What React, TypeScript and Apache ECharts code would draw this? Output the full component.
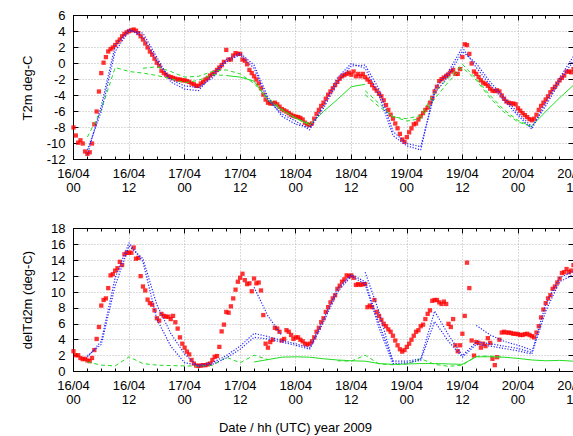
import React, { useEffect, useRef } from 'react';
import * as echarts from 'echarts';

// time step of observation series (hours) and model series (hours)
const obsStep = 0.5;
const modelStep = 3;

const xTickLabels = ['16/04\n00', '16/04\n12', '17/04\n00', '17/04\n12', '18/04\n00', '18/04\n12', '19/04\n00', '19/04\n12', '20/04\n00', '20/04\n12'];

// ---- T2m (deg C) observations, every 30 min from 16/04 00 ----
const t2mObs = [
  -8.0, -9.0, -9.9, -9.6, -10.0, -11.0, -11.3, -11.1, -10.0, -7.6, -6.0, -3.5, -1.2, 0.1, 0.8, 1.5, 1.8, 2.0, 2.3, 2.7, 3.0, 3.4, 3.7, 3.9,
  4.05, 4.15, 4.25, 4.1, 3.8, 3.4, 3.0, 2.5, 2.0, 1.5, 1.1, 0.6, 0.1, -0.3, -0.9, -1.2, -1.4, -1.6, -1.7, -1.8, -1.9, -2.0, -2.0, -2.1,
  -2.1, -2.2, -2.3, -2.5, -2.6, -2.8, -2.8, -2.5, -2.3, -2.0, -1.8, -1.5, -1.3, -1.1, -0.8, -0.5, -0.2, 0.2, 1.7, 0.5, 0.5, 1.0, 1.3, 1.2,
  1.2, 0.5, 0.35, -0.1, -0.8, -1.2, -1.6, -2.0, -2.5, -3.1, -3.9, -4.5, -4.9, -5.0, -5.0, -4.9, -5.1, -5.4, -5.7, -5.85, -6.0, -6.2, -6.4, -6.55,
  -6.65, -6.7, -6.8, -7.0, -7.4, -7.6, -7.7, -7.5, -6.9, -6.3, -5.8, -5.3, -4.9, -4.4, -3.9, -3.5, -3.1, -2.7, -2.3, -1.9, -1.6, -1.45, -1.3, -1.15,
  -1.4, -1.0, -1.6, -1.3, -1.6, -1.3, -1.7, -2.0, -2.3, -2.7, -3.1, -3.4, -3.8, -4.1, -4.6, -5.2, -5.8, -6.4, -6.9, -7.5, -8.1, -8.8, -9.5, -9.8,
  -9.2, -8.6, -8.1, -7.6, -7.5, -7.0, -6.6, -6.2, -5.8, -5.5, -4.9, -4.3, -3.5, -2.9, -2.2, -1.95, -1.75, -1.55, -1.35, -1.0, -0.8, -1.3, -1.3, -0.7,
  0.8, 2.4, 2.3, 1.2, 0.0, -1.0, -1.3, -1.7, -2.1, -2.4, -2.55, -2.8, -3.15, -3.4, -3.45, -3.35, -3.5, -4.0, -4.4, -4.75, -4.9, -5.0, -5.0, -5.1,
  -5.6, -5.9, -6.2, -6.45, -6.7, -6.95, -7.1, -6.9, -6.4, -5.8, -5.3, -4.9, -4.5, -4.1, -3.6, -3.2, -2.9, -2.5, -2.1, -1.8, -1.5, -1.0, -1.0, -1.1,
  -0.7,
];

// ---- T2m model forecasts, every 3 h from 16/04 00 ----
const t2mBlue1 = [null, -11.4, -5.3, 2.2, 4.3, 3.3, 0.3, -2.0, -2.8, -3.0, -1.8, 0.2, 1.1, -0.6, -4.6, -6.3, -7.2, -8.3, -5.2, -1.8, 0.0, -0.6, -4.0, -9.0, -10.3, -10.8, -3.2, -1.0, 2.0, -0.5, -2.7, -4.6, -6.5, -8.2, -4.8, -1.8, 0.9];
const t2mBlue2 = [null, -10.8, -6.0, 1.5, 4.1, 3.8, 0.8, -2.3, -3.2, -3.4, -1.4, 0.5, 1.3, -0.2, -4.2, -6.6, -7.6, -8.0, -5.6, -2.4, -0.3, -0.2, -3.2, -8.5, -10.0, -10.4, -3.8, -1.5, 1.5, 0.0, -2.3, -4.2, -6.2, -7.9, -5.3, -2.3, 0.4];
const t2mGreenDash0 = [null, -9.2, -5.8, -0.5, -1.0, -1.2, -1.5, -1.9, -2.4, -2.1, -1.4, -1.5, null, null, null, null, null, null, null, null, null, null, null, null, null, null, null, null, null, null, null, null, null, null, null, null, null];
const t2mGreenDash1 = [null, null, null, null, null, -0.6, -0.4, -1.0, -1.7, -1.6, -1.0, -0.8, -1.3, -2.5, -4.3, -5.7, -6.9, -7.5, null, null, null, -3.4, -5.0, -6.7, -6.9, -6.5, -3.6, -1.8, -0.1, -1.9, -4.0, -5.8, -7.1, -7.9, null, null, null];
const t2mGreenDash2 = [null, null, null, null, null, null, null, null, null, null, null, null, null, null, null, null, null, null, null, null, null, -3.9, -5.4, -6.6, -7.2, -6.9, -4.4, -2.3, -0.5, -2.1, -4.3, -6.1, -7.3, -7.9, null, null, null];
const t2mGreenSolid = [null, null, null, null, null, null, null, null, null, null, null, -1.5, -1.7, -2.2, -4.6, -5.8, -6.8, -7.7, -6.0, -4.5, -2.9, -2.6, null, null, null, null, null, null, null, null, null, null, null, -7.8, -6.0, -4.3, -2.7];

// ---- delTd2m (deg C) observations, every 30 min ----
const delTdObs = [
  2.55, 2.05, 2.05, 1.7, 1.55, 1.6, 1.4, 1.3, 1.7, 2.7, 4.1, 5.6, 8.3, 9.0, 9.2, 10.5, 12.1, 12.25, 12.7, 13.0, 13.8, 13.4, 14.75, 14.95,
  14.95, 14.95, 15.6, 14.2, 14.3, 12.0, 10.7, 10.2, 9.05, 8.6, 8.4, 7.7, 6.7, 6.4, 7.25, 7.0, 6.9, 6.9, 6.6, 7.0, 6.2, 5.4, 4.3, 3.5,
  3.0, 2.5, 2.15, 1.45, 1.0, 0.75, 0.7, 0.75, 0.8, 0.8, 0.9, 1.0, 1.45, 1.85, 1.95, 3.1, 5.05, 5.9, 7.5, 7.4, 8.2, 9.2, 10.3, 11.3,
  11.8, 12.3, 11.5, 11.0, 11.1, 10.1, 11.7, 11.1, 11.2, 10.2, 7.1, 3.5, 3.0, 3.7, 4.0, 5.5, 5.4, 5.0, 3.9, 4.1, 5.2, 5.0, 4.6, 4.1,
  4.3, 4.3, 4.0, 3.8, 3.5, 3.4, 3.5, 3.8, 4.3, 5.0, 5.5, 6.2, 6.7, 7.5, 8.1, 8.7, 9.2, 9.6, 10.4, 10.8, 11.3, 11.6, 12.1, 12.0,
  12.1, 11.8, 10.9, 11.0, 10.9, 11.0, 11.0, 8.1, 8.3, 8.1, 9.0, 7.5, 7.0, 6.5, 6.0, 5.7, 5.3, 5.0, 4.5, 3.9, 3.3, 2.8, 2.5, 2.7,
  3.1, 3.5, 4.0, 4.5, 5.0, 5.2, 5.7, 5.9, 6.6, 7.25, 7.7, 8.9, 9.0, 9.0, 8.7, 8.5, 8.8, 8.5, 6.0, 5.6, 6.6, 3.3, 2.55, 3.3,
  4.75, 7.0, 13.7, 10.5, 3.9, 2.0, 3.7, 3.6, 3.0, 3.5, 3.2, 4.2, 3.6, 1.6, 0.8, 1.8, 4.0, 4.9, 5.0, 4.9, 4.9, 4.85, 4.75, 4.75,
  4.7, 4.6, 4.6, 4.7, 4.75, 4.6, 4.45, 4.3, 4.9, 5.7, 6.8, 7.8, 8.6, 9.2, 9.6, 10.4, 10.7, 11.2, 11.7, 12.4, 12.5, 12.9, 12.5, 12.7,
  13.4,
];

// ---- delTd2m model forecasts, every 3 h ----
const delTdBlue1 = [null, 1.8, 3.8, 11.8, 16.2, 13.8, 6.6, 3.2, 1.1, 0.8, 1.1, 2.0, 3.2, 4.8, 4.4, 3.9, 3.5, 3.0, 6.6, 10.4, 12.2, 11.3, 6.0, 1.3, 1.3, 1.6, 7.6, 4.6, 2.0, 3.7, 3.5, 3.2, 2.9, 2.4, 8.5, 11.8, 12.6];
const delTdBlue2 = [null, 2.0, 3.4, 10.8, 15.8, 14.2, 8.4, 4.8, 2.2, 0.6, 0.9, 1.7, 2.8, 4.3, 4.1, 3.7, 3.3, 2.8, 6.2, 10.0, 12.0, 11.0, 5.5, 1.0, 1.1, 1.4, 6.3, 3.8, 1.8, 3.4, 3.2, 2.9, 2.6, 2.2, 7.6, 11.3, 12.2];
const delTdBlue3 = [null, null, null, null, null, null, null, null, null, null, null, null, null, 10.6, 7.0, 4.5, null, null, null, null, null, 12.5, 7.5, 1.2, null, null, null, null, null, 5.8, 4.6, 3.8, 3.3, 2.7, null, null, null];
const delTdGreenDash1 = [null, 1.2, 0.8, 0.7, 1.85, 1.0, 0.8, 0.75, 0.7, 0.7, 0.75, 1.8, 1.1, 2.05, 1.5, null, null, null, null, null, null, null, null, null, null, null, null, null, null, null, null, null, null, null, null, null, null];
const delTdGreenDash2 = [null, null, null, null, null, null, null, null, null, null, null, null, null, null, null, null, null, null, null, 1.35, 1.3, 2.05, 0.95, 0.85, 0.95, 1.6, 0.9, 0.65, 0.8, 1.9, 1.95, 1.8, null, null, null, null, null];
const delTdGreenSolid = [null, null, null, null, null, null, null, null, null, null, null, null, null, 1.2, 1.5, 1.8, 1.85, 1.8, 1.6, 1.45, 1.35, 1.3, 1.0, 0.9, 0.95, 1.0, 1.0, 0.95, 0.9, 1.85, 1.85, 1.8, 1.65, 1.45, 1.35, 1.4, 1.3];

const FONT = '"Liberation Sans", Arial, Helvetica, sans-serif';
const RED = '#ff0000';
const BLUE = '#2626ff';
const GREEN = '#22dd22';

function toPairs(values: (number | null)[], step: number) {
  return values.map((v, i) => [i * step, v]);
}

function obsSeries(values: number[], axis: number) {
  return {
    type: 'scatter',
    xAxisIndex: axis * 2,
    yAxisIndex: axis * 2,
    data: toPairs(values, obsStep),
    symbol: 'rect',
    symbolSize: 4.3,
    itemStyle: { color: RED },
    z: 2,
  };
}

function modelSeries(values: (number | null)[], axis: number, color: string, dash: any, width = 1) {
  return {
    type: 'line',
    xAxisIndex: axis * 2,
    yAxisIndex: axis * 2,
    data: toPairs(values, modelStep),
    showSymbol: false,
    symbol: 'none',
    connectNulls: false,
    lineStyle: { color, width, type: dash },
    z: 3,
  };
}

const gridLine = { show: true, lineStyle: { color: '#b4b4b4', type: [1, 2], width: 1 } };
const axisLine = { show: true, onZero: false, lineStyle: { color: '#000', width: 1 } };

function xAxes(gridIndex: number) {
  const common = {
    gridIndex,
    type: 'value',
    min: 0,
    max: 108,
    interval: 12,
    axisLine,
    axisTick: { show: true, inside: true, length: 5, lineStyle: { color: '#000' } },
    minorTick: { show: true, splitNumber: 4, length: 3, lineStyle: { color: '#000' } },
  };
  return [
    {
      ...common,
      position: 'bottom',
      splitLine: gridLine,
      axisLabel: {
        show: true,
        margin: 7,
        fontSize: 13,
        lineHeight: 14,
        color: '#000',
        fontFamily: FONT,
        showMaxLabel: true,
        showMinLabel: true,
        hideOverlap: false,
        formatter: (v: number) => xTickLabels[Math.round(v / 12)] ?? '',
      },
    },
    { ...common, position: 'top', splitLine: { show: false }, axisLabel: { show: false } },
  ];
}

function yAxes(gridIndex: number, min: number, max: number) {
  const common = {
    gridIndex,
    type: 'value',
    min,
    max,
    interval: 2,
    axisLine,
    axisTick: { show: true, inside: true, length: 5, lineStyle: { color: '#000' } },
  };
  return [
    {
      ...common,
      position: 'left',
      splitLine: gridLine,
      axisLabel: { show: true, margin: 8, fontSize: 13, color: '#000', fontFamily: FONT },
    },
    { ...common, position: 'right', splitLine: { show: false }, axisLabel: { show: false } },
  ];
}

export default function App() {
  const ref = useRef<HTMLDivElement>(null);
  useEffect(() => {
    if (!ref.current) return;
    const chart = echarts.init(ref.current, undefined, { renderer: 'svg' });
    const dotted = [1.2, 1.6];
    const dashed = [4, 3];
    chart.setOption({
      animation: false,
      backgroundColor: '#fff',
      textStyle: { fontFamily: FONT },
      grid: [
        { left: 73.5, top: 15.5, width: 500, height: 144 },
        { left: 73.5, top: 228.5, width: 500, height: 143 },
      ],
      xAxis: [...xAxes(0), ...xAxes(1)],
      yAxis: [...yAxes(0, -12, 6), ...yAxes(1, 0, 18)],
      graphic: [
        {
          type: 'text', x: 27, y: 88, rotation: Math.PI / 2,
          style: { text: 'T2m deg-C', fontSize: 13, fontFamily: FONT, fill: '#000', textAlign: 'center', textVerticalAlign: 'middle', align: 'center', verticalAlign: 'middle' },
        },
        {
          type: 'text', x: 27, y: 300, rotation: Math.PI / 2,
          style: { text: 'delTd2m (deg-C)', fontSize: 13, fontFamily: FONT, fill: '#000', textAlign: 'center', textVerticalAlign: 'middle', align: 'center', verticalAlign: 'middle' },
        },
        {
          type: 'text', x: 295.5, y: 427,
          style: { text: 'Date / hh (UTC) year 2009', fontSize: 13, fontFamily: FONT, fill: '#000', textAlign: 'center', textVerticalAlign: 'middle', align: 'center', verticalAlign: 'middle' },
        },
      ],
      series: [
        obsSeries(t2mObs, 0),
        modelSeries(t2mGreenDash0, 0, GREEN, dashed),
        modelSeries(t2mGreenDash1, 0, GREEN, dashed),
        modelSeries(t2mGreenDash2, 0, GREEN, dashed),
        modelSeries(t2mGreenSolid, 0, GREEN, 'solid'),
        modelSeries(t2mBlue1, 0, BLUE, dotted, 1.2),
        modelSeries(t2mBlue2, 0, BLUE, dotted, 1.2),
        obsSeries(delTdObs, 1),
        modelSeries(delTdGreenDash1, 1, GREEN, dashed),
        modelSeries(delTdGreenDash2, 1, GREEN, dashed),
        modelSeries(delTdGreenSolid, 1, GREEN, 'solid'),
        modelSeries(delTdBlue1, 1, BLUE, dotted, 1.2),
        modelSeries(delTdBlue2, 1, BLUE, dotted, 1.2),
        modelSeries(delTdBlue3, 1, BLUE, dotted, 1.2),
      ],
    });
    return () => chart.dispose();
  }, []);
  return (
    <div style={{ position: 'absolute', left: 0, top: 0, width: 573, height: 436, overflow: 'hidden', background: '#fff' }}>
      <div ref={ref} style={{ width: 640, height: 436 }} />
    </div>
  );
}
